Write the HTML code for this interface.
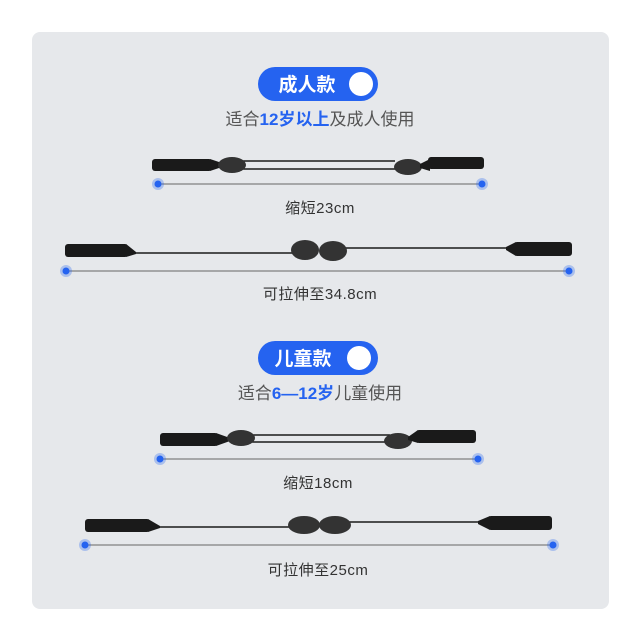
<!DOCTYPE html>
<html><head><meta charset="utf-8"><style>
html,body{margin:0;padding:0;background:#fff;}
svg{display:block}
text{font-family:"Liberation Sans","Noto Sans CJK SC",sans-serif;}
.lbl{font-size:15px;letter-spacing:0.5px;fill:#333}
</style></head><body>
<svg width="640" height="640" viewBox="0 0 640 640" xmlns="http://www.w3.org/2000/svg">
<rect x="0" y="0" width="640" height="640" fill="#fff"/>
<rect x="32" y="32" width="577" height="577" rx="8" fill="#e6e8eb"/>

<!-- Section 1 header -->
<rect x="258" y="67" width="120" height="34" rx="17" fill="#2563f0"/>
<text x="307" y="91" font-size="19" font-weight="bold" fill="#fff" text-anchor="middle">成人款</text>
<circle cx="361" cy="84" r="12" fill="#fff"/>
<text x="320" y="125" font-size="17" fill="#555" text-anchor="middle">适合<tspan fill="#2563f0" font-weight="bold">12岁以上</tspan>及成人使用</text>

<!-- Strap 1 -->
<g fill="#1a1a1a" stroke="#1a1a1a">
<rect x="152" y="159" width="60" height="12" rx="3" stroke="none"/>
<polygon points="210,159 222,163 222,167 210,171" stroke="none"/>
<line x1="240" y1="161" x2="395" y2="161" stroke-width="1.5"/>
<line x1="240" y1="169" x2="395" y2="169" stroke-width="1.5"/>
<ellipse cx="232" cy="165" rx="14" ry="8" fill="#333" stroke="none"/>
<ellipse cx="408" cy="167" rx="14" ry="8" fill="#333" stroke="none"/>
<polygon points="420,164 430,159 430,171 420,168" stroke="none"/>
<rect x="428" y="157" width="56" height="12" rx="3" stroke="none"/>
</g>
<line x1="158" y1="184" x2="482" y2="184" stroke="#666" stroke-width="1"/>
<circle cx="158" cy="184" r="6" fill="#2563f0" opacity="0.3"/><circle cx="158" cy="184" r="3.5" fill="#2563f0"/>
<circle cx="482" cy="184" r="6" fill="#2563f0" opacity="0.3"/><circle cx="482" cy="184" r="3.5" fill="#2563f0"/>
<text x="320" y="213" class="lbl" text-anchor="middle">缩短23cm</text>

<!-- Strap 2 -->
<g fill="#1a1a1a">
<rect x="65" y="244" width="63" height="13" rx="3"/>
<polygon points="126,244 136,252 136,254 126,257"/>
<line x1="134" y1="253" x2="295" y2="253" stroke="#1a1a1a" stroke-width="1.5"/>
<line x1="340" y1="248" x2="515" y2="248" stroke="#1a1a1a" stroke-width="1.5"/>
<ellipse cx="305" cy="250" rx="14" ry="10" fill="#333"/>
<ellipse cx="333" cy="251" rx="14" ry="10" fill="#333"/>
<polygon points="506,247 516,242 516,256 506,250"/>
<rect x="514" y="242" width="58" height="14" rx="3"/>
</g>
<line x1="66" y1="271" x2="569" y2="271" stroke="#666" stroke-width="1"/>
<circle cx="66" cy="271" r="6" fill="#2563f0" opacity="0.3"/><circle cx="66" cy="271" r="3.5" fill="#2563f0"/>
<circle cx="569" cy="271" r="6" fill="#2563f0" opacity="0.3"/><circle cx="569" cy="271" r="3.5" fill="#2563f0"/>
<text x="320" y="299" class="lbl" text-anchor="middle">可拉伸至34.8cm</text>

<!-- Section 2 header -->
<rect x="258" y="341" width="120" height="34" rx="17" fill="#2563f0"/>
<text x="303" y="365" font-size="19" font-weight="bold" fill="#fff" text-anchor="middle">儿童款</text>
<circle cx="359" cy="358" r="12" fill="#fff"/>
<text x="320" y="399" font-size="17" fill="#555" text-anchor="middle">适合<tspan fill="#2563f0" font-weight="bold">6—12岁</tspan>儿童使用</text>

<!-- Strap 3 -->
<g fill="#1a1a1a">
<rect x="160" y="433" width="58" height="13" rx="3"/>
<polygon points="216,433 230,438 230,441 216,446"/>
<line x1="250" y1="435" x2="390" y2="435" stroke="#1a1a1a" stroke-width="1.5"/>
<line x1="250" y1="442" x2="390" y2="442" stroke="#1a1a1a" stroke-width="1.5"/>
<ellipse cx="241" cy="438" rx="14" ry="8" fill="#333"/>
<ellipse cx="398" cy="441" rx="14" ry="8" fill="#333"/>
<polygon points="408,437 418,430 418,443 408,440"/>
<rect x="416" y="430" width="60" height="13" rx="3"/>
</g>
<line x1="160" y1="459" x2="478" y2="459" stroke="#666" stroke-width="1"/>
<circle cx="160" cy="459" r="6" fill="#2563f0" opacity="0.3"/><circle cx="160" cy="459" r="3.5" fill="#2563f0"/>
<circle cx="478" cy="459" r="6" fill="#2563f0" opacity="0.3"/><circle cx="478" cy="459" r="3.5" fill="#2563f0"/>
<text x="318" y="488" class="lbl" text-anchor="middle">缩短18cm</text>

<!-- Strap 4 -->
<g fill="#1a1a1a">
<rect x="85" y="519" width="65" height="13" rx="3"/>
<polygon points="148,519 160,526 160,528 148,532"/>
<line x1="158" y1="527" x2="295" y2="527" stroke="#1a1a1a" stroke-width="1.5"/>
<line x1="340" y1="522" x2="490" y2="522" stroke="#1a1a1a" stroke-width="1.5"/>
<ellipse cx="304" cy="525" rx="16" ry="9" fill="#333"/>
<ellipse cx="335" cy="525" rx="16" ry="9" fill="#333"/>
<polygon points="478,521 490,516 490,530 478,524"/>
<rect x="488" y="516" width="64" height="14" rx="3"/>
</g>
<line x1="85" y1="545" x2="553" y2="545" stroke="#666" stroke-width="1"/>
<circle cx="85" cy="545" r="6" fill="#2563f0" opacity="0.3"/><circle cx="85" cy="545" r="3.5" fill="#2563f0"/>
<circle cx="553" cy="545" r="6" fill="#2563f0" opacity="0.3"/><circle cx="553" cy="545" r="3.5" fill="#2563f0"/>
<text x="318" y="575" class="lbl" text-anchor="middle">可拉伸至25cm</text>
</svg>
</body></html>
